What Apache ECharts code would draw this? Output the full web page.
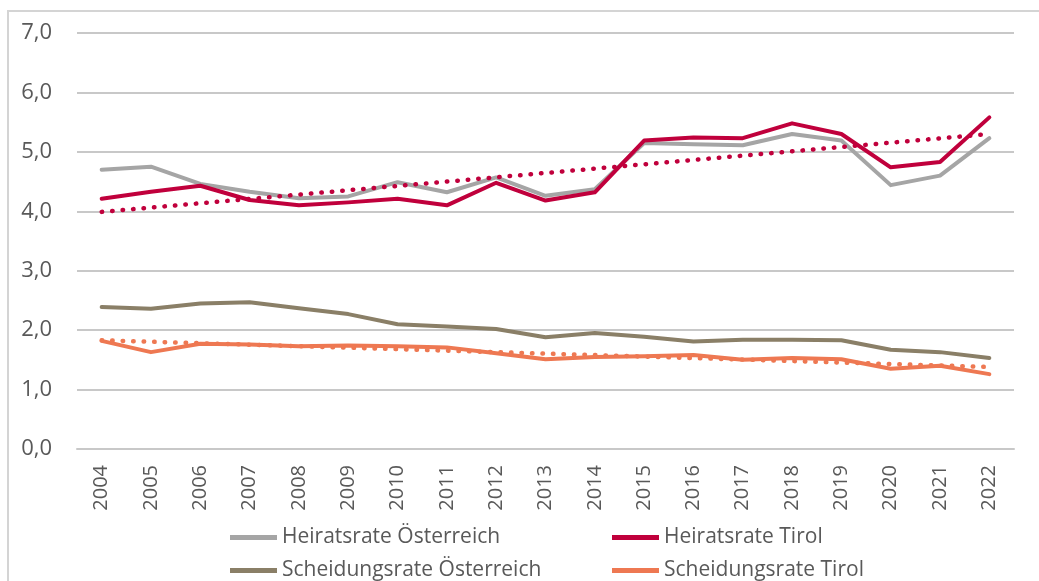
<!DOCTYPE html>
<html>
<head>
<meta charset="utf-8">
<title>Heirats- und Scheidungsrate</title>
<script src="https://cdn.jsdelivr.net/npm/echarts@6/dist/echarts.min.js"></script>
<style>
  html, body { margin: 0; padding: 0; background: #fff; }
  #chart { width: 1039px; height: 581px; }
</style>
</head>
<body>
<div id="chart"></div>
<script>
const years = ['2004', '2005', '2006', '2007', '2008', '2009', '2010', '2011', '2012', '2013',
  '2014', '2015', '2016', '2017', '2018', '2019', '2020', '2021', '2022']

const heiratAT = [4.70, 4.75, 4.46, 4.33, 4.22, 4.25, 4.49, 4.32, 4.57, 4.26,
  4.37, 5.15, 5.13, 5.11, 5.30, 5.19, 4.44, 4.60, 5.23]
const heiratTirol = [4.21, 4.33, 4.43, 4.19, 4.10, 4.15, 4.21, 4.10, 4.48, 4.18,
  4.32, 5.19, 5.24, 5.23, 5.48, 5.30, 4.74, 4.83, 5.58]
const scheidAT = [2.39, 2.36, 2.45, 2.47, 2.37, 2.27, 2.10, 2.06, 2.02, 1.88,
  1.95, 1.89, 1.81, 1.84, 1.84, 1.83, 1.67, 1.63, 1.53]
const scheidTirol = [1.82, 1.63, 1.77, 1.76, 1.73, 1.74, 1.73, 1.71, 1.61, 1.51,
  1.55, 1.56, 1.58, 1.50, 1.53, 1.51, 1.35, 1.40, 1.26]

// trend lines: only the two end points, drawn as a straight line
const trendHeiratTirol = [3.99, null, null, null, null, null, null, null, null, null,
  null, null, null, null, null, null, null, null, 5.30]
const trendScheidTirol = [1.83, null, null, null, null, null, null, null, null, null,
  null, null, null, null, null, null, null, null, 1.38]

const yTicks = [0, 1, 2, 3, 4, 5, 6, 7]

const textColor = '#595959'
const font = '"Open Sans", "Noto Sans", sans-serif'

const chart = echarts.init(document.getElementById('chart'))

const lineSeries = (name, data, color) => ({
  name,
  type: 'line',
  data,
  showSymbol: false,
  symbol: 'none',
  color,
  lineStyle: { color, width: 4, cap: 'round', join: 'round' },
  emphasis: { disabled: true }
})

const trendSeries = (name, data, color) => ({
  name,
  type: 'line',
  data,
  connectNulls: true,
  showSymbol: false,
  symbol: 'none',
  lineStyle: { color, width: 4.5, type: [0.5, 10], cap: 'round' },
  emphasis: { disabled: true }
})

const legendBase = {
  orient: 'vertical',
  top: 527,
  height: 60,
  padding: 0,
  icon: 'rect',
  itemWidth: 47,
  itemHeight: 5,
  itemGap: 12,
  selectedMode: false,
  textStyle: { color: textColor, fontSize: 21, fontFamily: font, lineHeight: 21, padding: [0, 0, 0, 0] }
}

chart.setOption({
  animation: false,
  backgroundColor: '#fff',
  textStyle: { fontFamily: font },
  graphic: [{
    type: 'rect',
    shape: { x: 8, y: 11, width: 1200, height: 800 },
    style: { fill: 'none', stroke: '#d4d4d4', lineWidth: 2 },
    silent: true
  }],
  grid: { left: 77, right: 25, top: 33, bottom: 132 },
  legend: [
    Object.assign({}, legendBase, { left: 230, data: ['Heiratsrate Österreich', 'Scheidungsrate Österreich'] }),
    Object.assign({}, legendBase, { left: 612, data: ['Heiratsrate Tirol', 'Scheidungsrate Tirol'] })
  ],
  xAxis: {
    type: 'category',
    data: years,
    boundaryGap: true,
    axisLine: { show: true, lineStyle: { color: '#c8c8c8', width: 2 } },
    axisTick: { show: false },
    axisLabel: { rotate: 90, margin: 16, color: textColor, fontSize: 20, fontFamily: font }
  },
  yAxis: {
    type: 'value',
    min: yTicks[0],
    max: yTicks[yTicks.length - 1],
    interval: 1,
    axisLine: { show: false },
    axisTick: { show: false },
    axisLabel: {
      margin: 25,
      color: textColor,
      fontSize: 22,
      fontFamily: font,
      formatter: v => v.toFixed(1).replace('.', ',')
    },
    splitLine: { lineStyle: { color: '#c8c8c8', width: 2 } }
  },
  series: [
    lineSeries('Heiratsrate Österreich', heiratAT, '#a5a5a5'),
    lineSeries('Heiratsrate Tirol', heiratTirol, '#c0003c'),
    lineSeries('Scheidungsrate Österreich', scheidAT, '#8a7f67'),
    lineSeries('Scheidungsrate Tirol', scheidTirol, '#ee7852'),
    trendSeries('Trend Heiratsrate Tirol', trendHeiratTirol, '#c0003c'),
    trendSeries('Trend Scheidungsrate Tirol', trendScheidTirol, '#ee7852')
  ]
})

window.addEventListener('resize', () => chart.resize())
</script>
</body>
</html>
